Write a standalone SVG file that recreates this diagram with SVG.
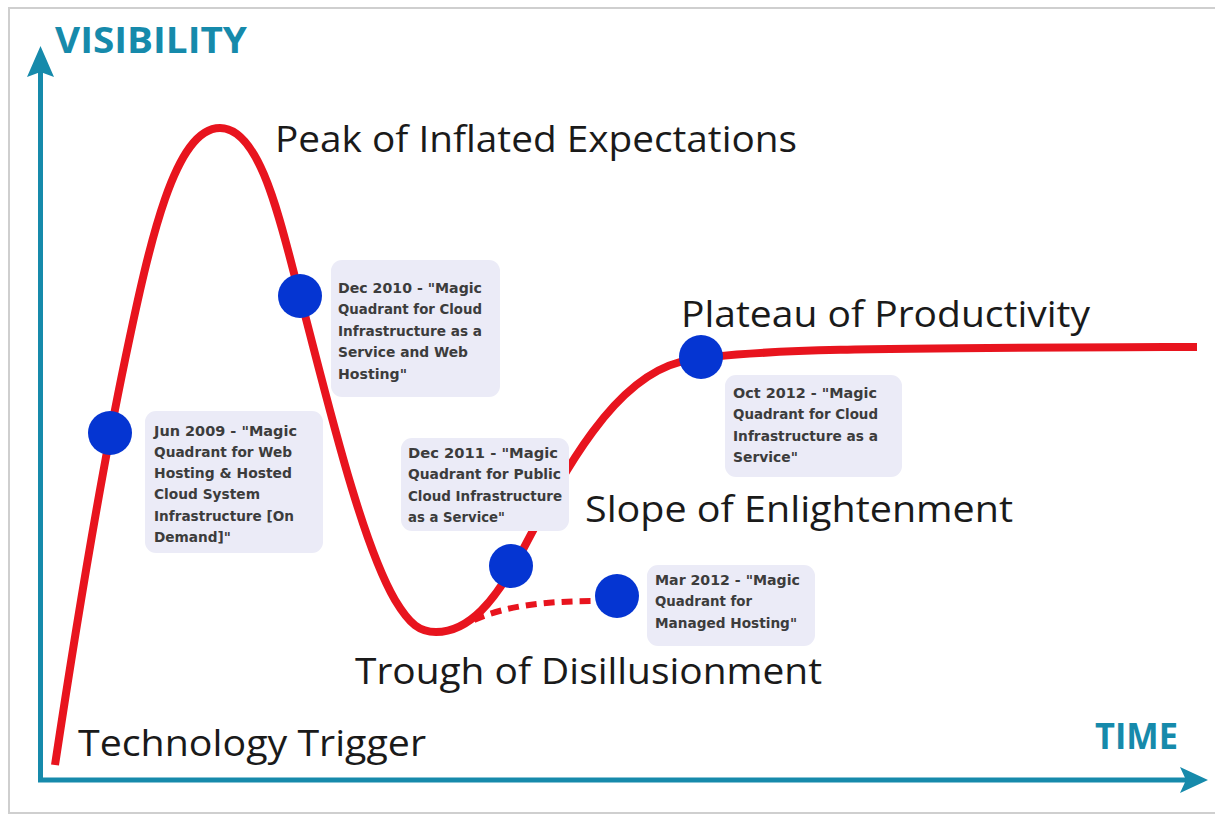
<svg xmlns="http://www.w3.org/2000/svg" width="1215" height="816" viewBox="0 0 1215 816">
  <style>
    .axis { stroke: #168aab; stroke-width: 5; fill: none; }
    .axhead { fill: #168aab; }
    .axlabel { font-family: "Open Sans", "Liberation Sans", sans-serif; font-weight: bold; fill: #168aab; font-size: 36px; }
    .curve { stroke: #e8141e; stroke-width: 8; fill: none; stroke-linecap: butt; }
    .dash { stroke: #e8141e; stroke-width: 6; fill: none; stroke-dasharray: 11 7; }
    .dot { fill: #0535d2; }
    .phase { font-family: "Open Sans", "Liberation Sans", sans-serif; font-size: 37px; fill: #1a1a1a; }
    .box { fill: #ebebf7; }
    .note { font-family: "DejaVu Sans", "Liberation Sans", sans-serif; font-weight: bold; font-size: 14.5px; fill: #3c3c3c; }
  </style>
  <rect x="0" y="0" width="1215" height="816" fill="#ffffff"/>
  <rect x="9" y="8" width="1220" height="805" fill="none" stroke="#cfcfcf" stroke-width="2"/>

  <g id="axes">
    <line class="axis" x1="40.5" y1="70" x2="40.5" y2="780"/>
    <line class="axis" x1="38" y1="780" x2="1190" y2="780"/>
    <polygon class="axhead" points="40.5,46 54,77 40.5,72 27,77"/>
    <polygon class="axhead" points="1208,780 1180,767 1186,780 1180,793"/>
    <text class="axlabel" x="55" y="53" textLength="192" lengthAdjust="spacingAndGlyphs">VISIBILITY</text>
    <text class="axlabel" x="1095" y="749" textLength="83" lengthAdjust="spacingAndGlyphs">TIME</text>
  </g>

  <g id="connectors">
    <path class="curve" d="M55,765 C80,600 100,480 125,360 C150,240 175,128 220,128 C262,128 282,230 300,296 C325,390 360,540 395,600 C410,625 420,632 436,632 C470,632 495,600 520,555 C560,480 610,380 680,362 C740,348 900,348 1197,347"/>
    <path class="dash" d="M474,620 C505,606 545,601 596,601"/>
  </g>

  <g id="phase-labels">
    <text class="phase" x="275" y="152" textLength="522" lengthAdjust="spacingAndGlyphs">Peak of Inflated Expectations</text>
    <text class="phase" x="681" y="327" textLength="409" lengthAdjust="spacingAndGlyphs">Plateau of Productivity</text>
    <text class="phase" x="585" y="522" textLength="428" lengthAdjust="spacingAndGlyphs">Slope of Enlightenment</text>
    <text class="phase" x="355" y="684" textLength="467" lengthAdjust="spacingAndGlyphs">Trough of Disillusionment</text>
    <text class="phase" x="78" y="756" textLength="348" lengthAdjust="spacingAndGlyphs">Technology Trigger</text>
  </g>

  <g id="node-jun2009">
    <rect class="box" x="145" y="411" width="178" height="142" rx="11"/>
    <circle class="dot" cx="110" cy="433" r="22"/>
    <text class="note" x="154" y="436" textLength="143" lengthAdjust="spacingAndGlyphs">Jun 2009 - "Magic</text>
    <text class="note" x="154" y="457" textLength="138" lengthAdjust="spacingAndGlyphs">Quadrant for Web</text>
    <text class="note" x="154" y="478" textLength="138" lengthAdjust="spacingAndGlyphs">Hosting &amp; Hosted</text>
    <text class="note" x="154" y="499" textLength="106" lengthAdjust="spacingAndGlyphs">Cloud System</text>
    <text class="note" x="154" y="521" textLength="140" lengthAdjust="spacingAndGlyphs">Infrastructure [On</text>
    <text class="note" x="154" y="542" textLength="77" lengthAdjust="spacingAndGlyphs">Demand]"</text>
  </g>

  <g id="node-dec2010">
    <rect class="box" x="331" y="260" width="169" height="137" rx="11"/>
    <circle class="dot" cx="300" cy="296" r="22"/>
    <text class="note" x="338" y="293" textLength="144" lengthAdjust="spacingAndGlyphs">Dec 2010 - "Magic</text>
    <text class="note" x="338" y="314" textLength="144" lengthAdjust="spacingAndGlyphs">Quadrant for Cloud</text>
    <text class="note" x="338" y="336" textLength="144" lengthAdjust="spacingAndGlyphs">Infrastructure as a</text>
    <text class="note" x="338" y="357" textLength="130" lengthAdjust="spacingAndGlyphs">Service and Web</text>
    <text class="note" x="338" y="379" textLength="69" lengthAdjust="spacingAndGlyphs">Hosting"</text>
  </g>

  <g id="node-dec2011">
    <rect class="box" x="401" y="438" width="168" height="93" rx="11"/>
    <circle class="dot" cx="511" cy="566" r="22"/>
    <text class="note" x="408" y="458" textLength="150" lengthAdjust="spacingAndGlyphs">Dec 2011 - "Magic</text>
    <text class="note" x="408" y="479" textLength="153" lengthAdjust="spacingAndGlyphs">Quadrant for Public</text>
    <text class="note" x="408" y="501" textLength="154" lengthAdjust="spacingAndGlyphs">Cloud Infrastructure</text>
    <text class="note" x="408" y="522" textLength="97" lengthAdjust="spacingAndGlyphs">as a Service"</text>
  </g>

  <g id="node-mar2012">
    <rect class="box" x="647" y="565" width="168" height="81" rx="11"/>
    <circle class="dot" cx="617" cy="596" r="22"/>
    <text class="note" x="655" y="585" textLength="145" lengthAdjust="spacingAndGlyphs">Mar 2012 - "Magic</text>
    <text class="note" x="655" y="606" textLength="97" lengthAdjust="spacingAndGlyphs">Quadrant for</text>
    <text class="note" x="655" y="628" textLength="142" lengthAdjust="spacingAndGlyphs">Managed Hosting"</text>
  </g>

  <g id="node-oct2012">
    <rect class="box" x="725" y="375" width="177" height="102" rx="11"/>
    <circle class="dot" cx="701" cy="357" r="22"/>
    <text class="note" x="733" y="398" textLength="144" lengthAdjust="spacingAndGlyphs">Oct 2012 - "Magic</text>
    <text class="note" x="733" y="419" textLength="145" lengthAdjust="spacingAndGlyphs">Quadrant for Cloud</text>
    <text class="note" x="733" y="441" textLength="145" lengthAdjust="spacingAndGlyphs">Infrastructure as a</text>
    <text class="note" x="733" y="462" textLength="65" lengthAdjust="spacingAndGlyphs">Service"</text>
  </g>
</svg>
